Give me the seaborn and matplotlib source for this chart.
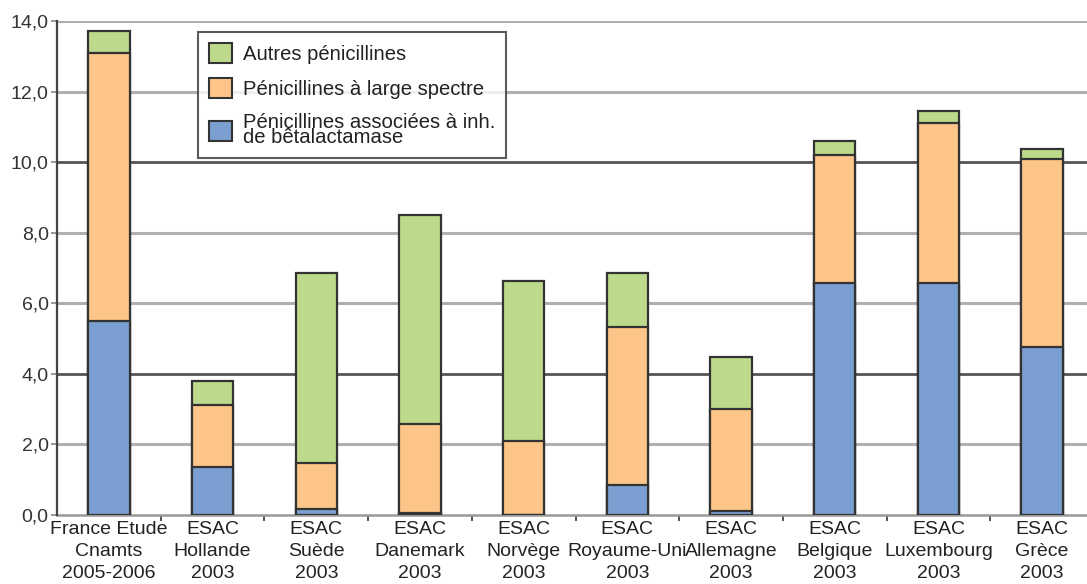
import matplotlib
matplotlib.use("Agg")
import matplotlib.pyplot as plt
from matplotlib.patches import Patch
from matplotlib.ticker import FixedLocator
import numpy as np
import pandas as pd
import seaborn as sns

categories = [
    "France Etude\nCnamts\n2005-2006",
    "ESAC\nHollande\n2003",
    "ESAC\nSuède\n2003",
    "ESAC\nDanemark\n2003",
    "ESAC\nNorvège\n2003",
    "ESAC\nRoyaume-Uni\n2003",
    "ESAC\nAllemagne\n2003",
    "ESAC\nBelgique\n2003",
    "ESAC\nLuxembourg\n2003",
    "ESAC\nGrèce\n2003",
]
# DDJ per series (stack order: bottom -> top)
assoc_inh = [5.50, 1.37, 0.17, 0.05, 0.00, 0.85, 0.12, 6.58, 6.58, 4.76]
large_spectre = [7.60, 1.75, 1.31, 2.52, 2.10, 4.48, 2.89, 3.62, 4.52, 5.32]
autres = [0.61, 0.68, 5.38, 5.94, 4.54, 1.53, 1.47, 0.39, 0.35, 0.28]

series_names = [
    "Autres pénicillines",
    "Pénicillines à large spectre",
    "Pénicillines associées à inh.\nde bêtalactamase",
]
colors = ["#bdd98b", "#fdc588", "#7b9fd1"]
edge = "#333333"

sns.set_theme(style="white")
plt.rcParams["font.family"] = ["Liberation Sans Narrow", "Liberation Sans", "DejaVu Sans"]

b = np.array(assoc_inh)
o = b + np.array(large_spectre)
g = o + np.array(autres)
df = pd.DataFrame({"cat": categories, "blue": b, "orange": o, "green": g})

fig = plt.figure(figsize=(10.87, 5.84), dpi=100)
W, H = 1087, 584
left_px, right_px, top_px, bottom_px = 57, 1087, 21, 515
ax = fig.add_axes([left_px / W, 1 - bottom_px / H, (right_px - left_px) / W,
                   (bottom_px - top_px) / H])

# gridlines
for v in np.arange(2, 15, 2):
    dark = v in (4, 10)
    ax.axhline(v, color="#555555" if dark else "#b0b0b0", lw=2.0 if dark else 2.2,
               zorder=0)

# cumulative overlays: tallest first
for col, c in zip(["green", "orange", "blue"], colors):
    sns.barplot(data=df, x="cat", y=col, order=categories, color=c, width=0.4,
                edgecolor=edge, linewidth=1.6, saturation=1, ax=ax, zorder=2)

ax.set_ylim(0, 14)
ax.set_xlim(-0.5, -0.5 + (right_px - left_px) / 103.7)
ax.set_xlabel("")
ax.set_ylabel("")

ax.set_yticks(np.arange(0, 15, 2))
ax.set_yticklabels([f"{v:.1f}".replace(".", ",") for v in np.arange(0, 15, 2)],
                   fontsize=14, color="#333333")
ax.tick_params(axis="y", which="major", left=True, length=4, width=1.2,
               color="#888888", pad=2)
ax.tick_params(axis="x", which="major", length=0, pad=4, labelsize=14,
               labelcolor="#222222")
ax.xaxis.set_minor_locator(FixedLocator(np.arange(0.5, 9, 1)))
ax.tick_params(axis="x", which="minor", bottom=True, length=4, width=1.2,
               color="#333333", direction="out")
for lbl in ax.get_xticklabels():
    lbl.set_linespacing(1.4)

for s in ["top", "right"]:
    ax.spines[s].set_visible(False)
ax.spines["left"].set_color("#444444")
ax.spines["left"].set_linewidth(1.6)
ax.spines["bottom"].set_color("#999999")
ax.spines["bottom"].set_linewidth(1.8)
ax.spines["bottom"].set_zorder(1)

handles = [Patch(facecolor=c, edgecolor=edge, linewidth=1.5) for c in colors]
leg = fig.legend(handles, series_names, loc="upper left",
                 bbox_to_anchor=(198 / W, 1 - 32 / H), frameon=True,
                 fancybox=False, edgecolor="#333333", fontsize=14.6,
                 handlelength=1.15, handleheight=1.15, handletextpad=0.5,
                 labelspacing=0.7, borderpad=0.55, borderaxespad=0)
leg.get_frame().set_linewidth(1.5)
for t in leg.get_texts():
    t.set_linespacing(0.72)
    t.set_color("#222222")

fig.savefig("out.png", dpi=100, facecolor="white")
